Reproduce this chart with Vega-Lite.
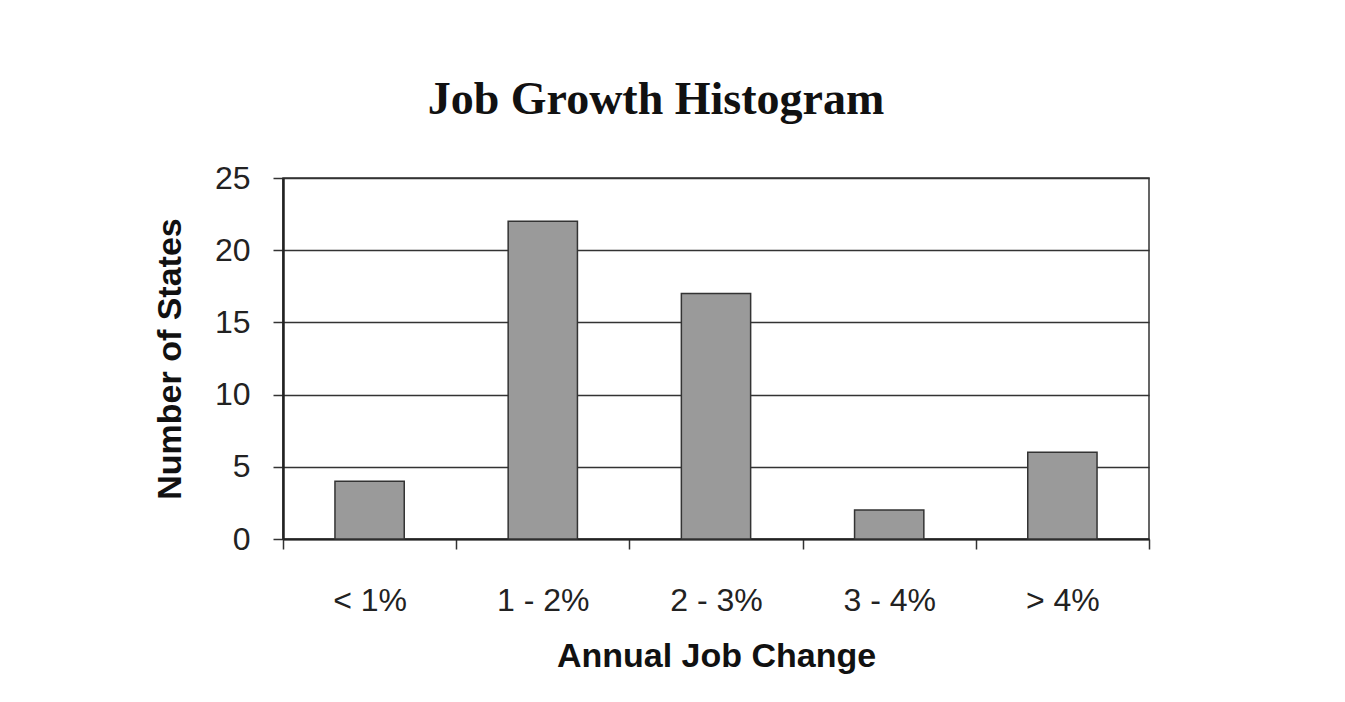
{
  "$schema": "https://vega.github.io/schema/vega-lite/v6.json",
  "autosize": {"type": "none"},
  "padding": {"left": 283, "top": 178, "right": 196, "bottom": 163},
  "width": 866,
  "height": 361,
  "background": "white",
  "title": {
    "text": "Job Growth Histogram",
    "font": "Liberation Serif",
    "fontSize": 46,
    "fontWeight": "bold",
    "color": "#111",
    "anchor": "middle",
    "frame": "group",
    "dx": -60,
    "baseline": "alphabetic",
    "offset": 2
  },
  "data": {
    "values": [
      {"range": "< 1%", "states": 4},
      {"range": "1 - 2%", "states": 22},
      {"range": "2 - 3%", "states": 17},
      {"range": "3 - 4%", "states": 2},
      {"range": "> 4%", "states": 6}
    ]
  },
  "mark": {"type": "bar", "fill": "#9a9a9a", "stroke": "#333", "strokeWidth": 1.5, "width": {"band": 0.4}},
  "encoding": {
    "x": {
      "field": "range",
      "type": "nominal",
      "sort": null,
      "scale": {"paddingInner": 0, "paddingOuter": 0},
      "axis": {
        "title": "Annual Job Change",
        "labelAngle": 0,
        "tickBand": "extent",
        "tickSize": 10,
        "tickColor": "#333",
        "tickWidth": 1.5,
        "domainColor": "#222",
        "domainWidth": 2,
        "labelFont": "Liberation Sans",
        "labelFontSize": 32,
        "labelColor": "#222",
        "labelPadding": 36,
        "titleFont": "Liberation Sans",
        "titleFontSize": 34,
        "titleFontWeight": "bold",
        "titleColor": "#111",
        "titlePadding": 23
      }
    },
    "y": {
      "field": "states",
      "type": "quantitative",
      "scale": {"domain": [0, 25], "nice": false},
      "axis": {
        "title": "Number of States",
        "values": [0, 5, 10, 15, 20, 25],
        "grid": true,
        "gridColor": "#333",
        "gridWidth": 1.5,
        "tickSize": 10,
        "tickColor": "#333",
        "tickWidth": 1.5,
        "domainColor": "#222",
        "domainWidth": 2.5,
        "labelFont": "Liberation Sans",
        "labelFontSize": 32,
        "labelColor": "#222",
        "labelPadding": 23,
        "titleFont": "Liberation Sans",
        "titleFontSize": 34,
        "titleFontWeight": "bold",
        "titleColor": "#111",
        "titlePadding": 27
      }
    }
  },
  "config": {
    "view": {"stroke": "#333", "strokeWidth": 1.5}
  }
}
